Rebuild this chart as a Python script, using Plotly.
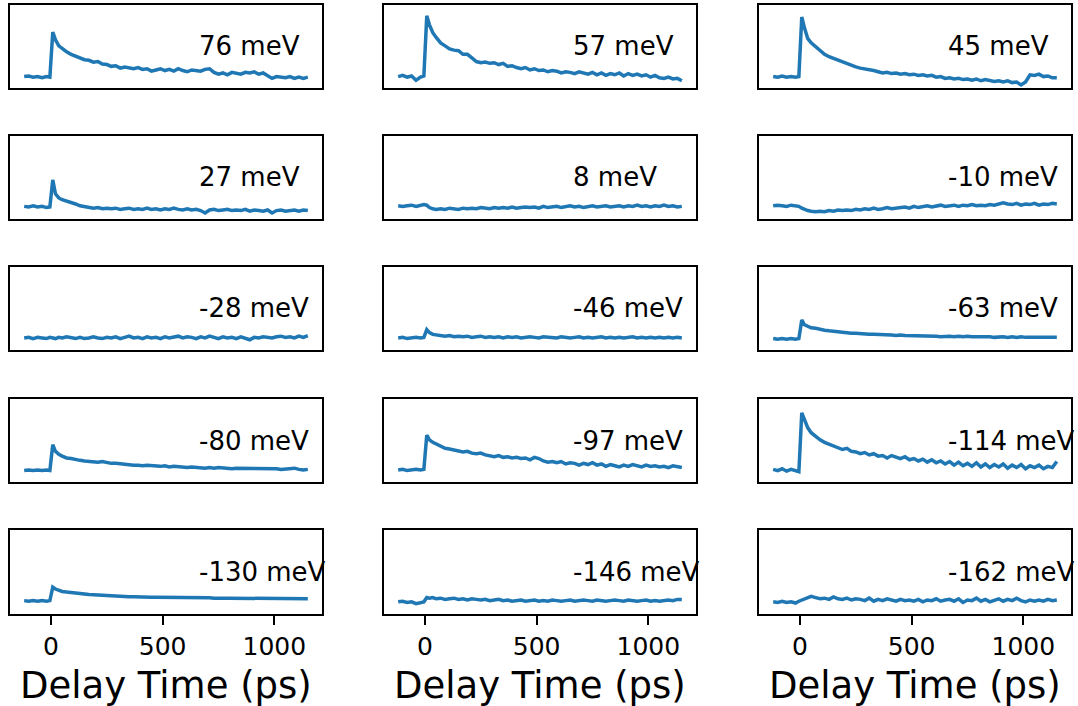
import plotly.graph_objects as go

# Delay axis shared by every trace (ps)
delay_ps = [-120, -100, -80, -60, -40, -20, -5, 8, 20, 35, 50] + list(range(70, 1151, 20))

energy_labels = [
    "76 meV", "57 meV", "45 meV",
    "27 meV", "8 meV", "-10 meV",
    "-28 meV", "-46 meV", "-63 meV",
    "-80 meV", "-97 meV", "-114 meV",
    "-130 meV", "-146 meV", "-162 meV",
]

sig_76 = [-0.01, 0.00, -0.02, -0.01, -0.03, -0.01, -0.02, 0.73, 0.60, 0.50, 0.46,
          0.40, 0.36, 0.33, 0.30, 0.27, 0.26, 0.23, 0.24, 0.20, 0.19,
          0.16, 0.17, 0.13, 0.15, 0.14, 0.12, 0.14, 0.11, 0.12, 0.08,
          0.10, 0.12, 0.09, 0.11, 0.08, 0.12, 0.09, 0.07, 0.10, 0.09,
          0.08, 0.11, 0.12, 0.06, 0.03, 0.05, 0.02, 0.06, 0.04, 0.03,
          0.06, 0.05, 0.07, 0.03, 0.05, 0.01, -0.04, -0.01, -0.02, -0.03,
          -0.01, -0.04, -0.02, -0.04, -0.02]

sig_57 = [-0.01, 0.01, -0.02, 0.00, -0.07, -0.02, 0.00, 1.00, 0.85, 0.72, 0.64,
          0.55, 0.50, 0.45, 0.43, 0.42, 0.36, 0.36, 0.30, 0.24, 0.22,
          0.23, 0.21, 0.22, 0.19, 0.21, 0.16, 0.17, 0.14, 0.12, 0.14,
          0.10, 0.12, 0.09, 0.10, 0.07, 0.09, 0.08, 0.05, 0.07, 0.06,
          0.04, 0.07, 0.05, 0.03, 0.06, 0.02, 0.05, 0.01, 0.04, 0.02,
          0.05, 0.00, 0.04, 0.01, 0.03, 0.00, 0.02, -0.02, 0.01, -0.03,
          -0.04, -0.02, -0.05, -0.04, -0.08]

sig_45 = [-0.01, -0.02, 0.00, -0.02, -0.01, -0.02, -0.01, 0.98, 0.80, 0.62, 0.55,
          0.48, 0.42, 0.36, 0.32, 0.29, 0.26, 0.23, 0.20, 0.17, 0.15,
          0.13, 0.12, 0.10, 0.09, 0.07, 0.05, 0.06, 0.04, 0.05, 0.03,
          0.04, 0.02, 0.03, 0.01, 0.02, 0.00, 0.01, -0.02, -0.01, -0.04,
          -0.03, -0.05, -0.04, -0.06, -0.05, -0.07, -0.05, -0.08, -0.06, -0.07,
          -0.09, -0.08, -0.10, -0.08, -0.11, -0.10, -0.15, -0.10, 0.02, 0.01,
          0.03, -0.01, 0.00, -0.03, -0.03]

sig_27 = [0.01, 0.00, 0.02, 0.00, 0.01, -0.01, 0.00, 0.45, 0.22, 0.15, 0.12,
          0.10, 0.07, 0.05, 0.02, 0.01, 0.00, -0.02, -0.01, -0.03, -0.02,
          -0.03, -0.02, -0.04, -0.03, -0.02, -0.04, -0.03, -0.04, -0.02, -0.04,
          -0.03, -0.05, -0.03, -0.04, -0.02, -0.04, -0.05, -0.03, -0.05, -0.04,
          -0.06, -0.10, -0.05, -0.04, -0.06, -0.05, -0.04, -0.06, -0.05, -0.06,
          -0.04, -0.07, -0.05, -0.06, -0.07, -0.05, -0.10, -0.06, -0.05, -0.07,
          -0.06, -0.05, -0.07, -0.05, -0.06]

sig_8 = [0.02, 0.01, 0.02, 0.03, 0.01, 0.02, 0.04, 0.03, -0.01, -0.03, -0.04,
         -0.03, -0.04, -0.02, -0.03, -0.04, -0.02, -0.03, -0.02, -0.03, -0.01,
         -0.02, -0.03, -0.01, -0.02, -0.01, -0.02, 0.00, -0.02, -0.01, 0.00,
         -0.01, 0.00, -0.02, 0.01, -0.01, 0.00, 0.01, -0.01, 0.00, 0.02,
         0.00, 0.01, -0.01, 0.01, 0.02, 0.00, 0.01, 0.02, 0.00, 0.01,
         0.02, 0.00, 0.02, 0.01, 0.03, 0.01, 0.02, 0.00, 0.02, 0.01,
         0.03, 0.01, 0.02, 0.00, 0.01]

sig_m10 = [0.02, 0.03, 0.02, 0.01, 0.03, 0.02, 0.01, -0.02, -0.04, -0.06, -0.07,
           -0.08, -0.07, -0.08, -0.06, -0.07, -0.05, -0.06, -0.05, -0.06, -0.04,
           -0.05, -0.03, -0.04, -0.02, -0.04, -0.03, -0.01, -0.03, -0.02, -0.01,
           0.00, -0.02, 0.01, -0.01, 0.00, 0.02, 0.00, 0.01, 0.03, 0.01,
           0.02, 0.03, 0.01, 0.03, 0.02, 0.04, 0.02, 0.03, 0.02, 0.04,
           0.03, 0.05, 0.07, 0.05, 0.04, 0.06, 0.03, 0.05, 0.04, 0.06,
           0.03, 0.05, 0.04, 0.06, 0.05]

sig_m28 = [0.00, 0.01, -0.01, 0.01, 0.00, -0.01, 0.01, 0.00, -0.01, 0.01, 0.00,
           0.02, 0.00, -0.01, 0.01, -0.01, 0.00, 0.02, 0.00, -0.01, 0.01,
           0.00, 0.02, -0.01, 0.01, 0.03, 0.00, 0.01, -0.01, 0.02, 0.00,
           0.01, -0.01, 0.02, 0.00, 0.01, 0.03, 0.00, 0.02, 0.01, -0.01,
           0.02, 0.00, 0.03, 0.01, -0.01, 0.02, 0.00, 0.01, -0.01, 0.02,
           0.00, -0.03, 0.01, 0.00, 0.02, 0.01, 0.00, 0.02, 0.03, 0.01,
           0.02, 0.00, 0.03, 0.01, 0.04]

sig_m46 = [0.00, 0.01, -0.01, 0.00, 0.01, 0.00, 0.01, 0.14, 0.09, 0.06, 0.05,
           0.04, 0.03, 0.04, 0.02, 0.03, 0.02, 0.03, 0.01, 0.02, 0.03,
           0.01, 0.02, 0.01, 0.02, 0.00, 0.02, 0.01, 0.02, 0.00, 0.01,
           0.02, 0.01, 0.00, 0.02, 0.01, 0.01, 0.00, 0.02, 0.01, 0.00,
           0.01, 0.02, 0.00, 0.01, 0.00, 0.01, 0.02, 0.00, 0.01, 0.00,
           0.01, 0.00, 0.01, 0.02, 0.00, 0.01, 0.00, 0.01, 0.00, 0.01,
           0.00, 0.01, 0.00, 0.01, 0.00]

sig_m63 = [-0.01, -0.02, -0.01, -0.02, -0.01, -0.02, -0.01, 0.30, 0.22, 0.19, 0.17,
           0.16, 0.14, 0.13, 0.12, 0.11, 0.10, 0.10, 0.09, 0.08, 0.08,
           0.07, 0.07, 0.06, 0.06, 0.06, 0.05, 0.05, 0.05, 0.04, 0.05,
           0.04, 0.04, 0.03, 0.04, 0.03, 0.04, 0.03, 0.03, 0.02, 0.03,
           0.03, 0.02, 0.03, 0.02, 0.03, 0.02, 0.02, 0.03, 0.02, 0.02,
           0.01, 0.02, 0.02, 0.01, 0.02, 0.01, 0.02, 0.01, 0.01, 0.02,
           0.01, 0.01, 0.02, 0.01, 0.01]

sig_m80 = [-0.01, 0.00, -0.01, 0.00, -0.01, 0.00, -0.01, 0.42, 0.31, 0.26, 0.23,
           0.20, 0.19, 0.17, 0.16, 0.15, 0.14, 0.14, 0.13, 0.14, 0.12,
           0.11, 0.11, 0.10, 0.09, 0.09, 0.08, 0.08, 0.07, 0.08, 0.07,
           0.06, 0.06, 0.07, 0.05, 0.06, 0.05, 0.05, 0.04, 0.05, 0.04,
           0.04, 0.03, 0.04, 0.03, 0.04, 0.03, 0.03, 0.02, 0.03, 0.03,
           0.02, 0.03, 0.02, 0.03, 0.02, 0.02, 0.03, 0.02, 0.01, 0.02,
           0.02, 0.03, 0.01, 0.00, 0.01]

sig_m97 = [0.00, 0.01, -0.01, 0.00, 0.01, 0.00, 0.01, 0.58, 0.50, 0.46, 0.43,
           0.39, 0.36, 0.35, 0.33, 0.32, 0.30, 0.31, 0.28, 0.27, 0.28,
           0.25, 0.24, 0.22, 0.24, 0.21, 0.22, 0.20, 0.21, 0.19, 0.20,
           0.17, 0.21, 0.19, 0.15, 0.13, 0.14, 0.12, 0.14, 0.10, 0.12,
           0.11, 0.08, 0.11, 0.09, 0.12, 0.08, 0.10, 0.06, 0.09, 0.07,
           0.05, 0.08, 0.06, 0.09, 0.07, 0.05, 0.08, 0.06, 0.07, 0.05,
           0.06, 0.04, 0.07, 0.05, 0.04]

sig_m114 = [0.01, -0.01, 0.02, -0.02, 0.01, -0.01, -0.03, 0.95, 0.82, 0.70, 0.62,
            0.55, 0.50, 0.46, 0.43, 0.41, 0.38, 0.34, 0.36, 0.31, 0.30,
            0.27, 0.29, 0.25, 0.27, 0.23, 0.24, 0.20, 0.24, 0.21, 0.19,
            0.22, 0.17, 0.19, 0.15, 0.18, 0.13, 0.17, 0.12, 0.15, 0.10,
            0.14, 0.08, 0.13, 0.07, 0.11, 0.06, 0.12, 0.05, 0.10, 0.04,
            0.09, 0.05, 0.10, 0.03, 0.08, 0.04, 0.09, 0.02, 0.07, 0.04,
            0.08, 0.02, 0.06, 0.04, 0.14]

sig_m130 = [0.02, 0.01, 0.02, 0.01, 0.02, 0.01, 0.02, 0.24, 0.21, 0.19, 0.17,
            0.16, 0.15, 0.14, 0.13, 0.125, 0.12, 0.115, 0.11, 0.105, 0.10,
            0.10, 0.095, 0.09, 0.09, 0.085, 0.085, 0.08, 0.08, 0.08, 0.075,
            0.075, 0.075, 0.07, 0.075, 0.07, 0.07, 0.07, 0.07, 0.065, 0.07,
            0.065, 0.065, 0.065, 0.06, 0.065, 0.06, 0.06, 0.06, 0.06, 0.06,
            0.06, 0.055, 0.06, 0.055, 0.055, 0.055, 0.055, 0.05, 0.055, 0.05,
            0.05, 0.055, 0.05, 0.05, 0.05]

sig_m146 = [0.00, 0.01, -0.01, 0.00, -0.03, -0.02, 0.00, 0.07, 0.06, 0.07, 0.05,
            0.06, 0.04, 0.05, 0.06, 0.04, 0.05, 0.03, 0.05, 0.04, 0.03,
            0.04, 0.02, 0.03, 0.04, 0.02, 0.03, 0.01, 0.02, 0.03, 0.01,
            0.02, 0.03, 0.01, 0.02, 0.01, 0.03, 0.02, 0.01, 0.02, 0.03,
            0.01, 0.02, 0.03, 0.02, 0.01, 0.03, 0.02, 0.01, 0.02, 0.03,
            0.02, 0.01, 0.03, 0.02, 0.01, 0.02, 0.03, 0.01, 0.02, 0.01,
            0.02, 0.03, 0.02, 0.04, 0.04]

sig_m162 = [0.00, -0.01, 0.01, -0.01, 0.00, -0.02, 0.01, 0.03, 0.05, 0.07, 0.09,
            0.07, 0.05, 0.06, 0.04, 0.08, 0.05, 0.04, 0.06, 0.03, 0.05,
            0.04, 0.02, 0.06, 0.01, 0.04, 0.02, 0.05, 0.03, 0.01, 0.04,
            0.02, 0.03, 0.01, 0.04, 0.00, 0.03, 0.02, 0.05, 0.01, 0.03,
            0.04, 0.01, 0.05, -0.01, 0.03, 0.02, 0.06, 0.01, 0.04, 0.00,
            0.03, 0.05, 0.01, 0.04, 0.02, 0.06, 0.02, 0.00, 0.03, 0.01,
            0.03, 0.01, 0.04, 0.02, 0.03]

signals = [sig_76, sig_57, sig_45, sig_27, sig_8, sig_m10, sig_m28, sig_m46,
           sig_m63, sig_m80, sig_m97, sig_m114, sig_m130, sig_m146, sig_m162]

x_ticks = [0, 500, 1000]
x_title = "Delay Time (ps)"

# ---- page geometry (pixels) ----
W, H = 1078, 706
col_px = [(10, 322), (384, 696), (759, 1071)]
row_px = [(5, 88), (136, 219), (267, 350), (399, 482), (530, 614)]
x_range = [-183.5, 1213.5]
y_range = [-0.2, 1.18]
FONT = "DejaVu Sans"
LINE_BLUE = "#1f77b4"

fig = go.Figure()
layout = {}
annotations = []

for k, (label, sig) in enumerate(zip(energy_labels, signals)):
    r, c = divmod(k, 3)
    n = k + 1
    xa = "x" if n == 1 else f"x{n}"
    ya = "y" if n == 1 else f"y{n}"
    bottom_row = r == len(row_px) - 1

    fig.add_trace(go.Scatter(
        x=delay_ps, y=sig, mode="lines",
        line=dict(color=LINE_BLUE, width=3.5),
        xaxis=xa, yaxis=ya, showlegend=False, hoverinfo="skip",
    ))

    x0, x1 = col_px[c]
    top, bot = row_px[r]
    layout["xaxis" if n == 1 else f"xaxis{n}"] = dict(
        domain=[x0 / W, x1 / W], anchor=ya, range=x_range,
        showline=True, mirror=True, linecolor="black", linewidth=1.5,
        showgrid=False, zeroline=False,
        tickmode="array", tickvals=x_ticks if bottom_row else [],
        ticks="outside" if bottom_row else "", ticklen=9, tickwidth=1.5,
        tickcolor="black", showticklabels=bottom_row,
        tickfont=dict(family=FONT, size=25, color="black"),
    )
    layout["yaxis" if n == 1 else f"yaxis{n}"] = dict(
        domain=[1 - bot / H, 1 - top / H], anchor=xa, range=y_range,
        showline=True, mirror=True, linecolor="black", linewidth=1.5,
        showgrid=False, zeroline=False, ticks="", showticklabels=False,
    )
    annotations.append(dict(
        xref=f"{xa} domain", yref=f"{ya} domain", x=0.6, y=0.5,
        xanchor="left", yanchor="middle", text=label, showarrow=False,
        font=dict(family=FONT, size=26, color="black"),
    ))

for x0, x1 in col_px:
    annotations.append(dict(
        xref="paper", yref="paper", x=(x0 + x1) / 2 / W, y=1 - 685 / H,
        xanchor="center", yanchor="middle", text=x_title, showarrow=False,
        font=dict(family=FONT, size=37, color="black"),
    ))

fig.update_layout(
    width=W, height=H,
    margin=dict(l=0, r=0, t=0, b=0),
    paper_bgcolor="white", plot_bgcolor="white",
    annotations=annotations,
    **layout,
)

fig.write_html("out.html")
